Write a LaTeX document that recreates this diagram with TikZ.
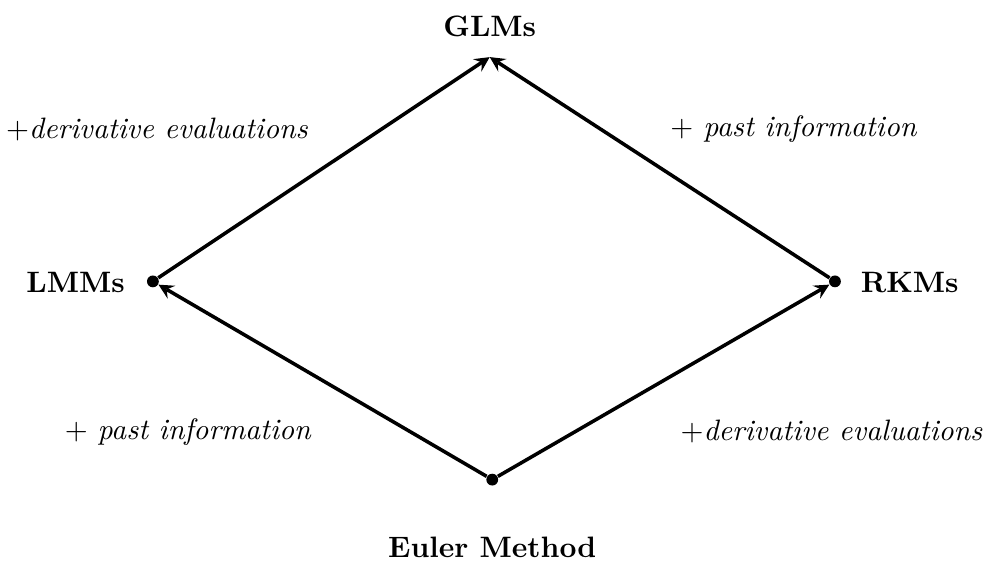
\documentclass[tikz,border=0pt]{standalone}
\usepackage{amsmath,amsfonts}
\usepackage{xcolor}
\usepackage{tikz}

\begin{document}
\begin{tikzpicture}[dot/.style={circle,fill,inner sep=0pt,minimum size=4pt}]
\useasboundingbox (0,0) rectangle (11.75,6.71);
\coordinate(G) at (5.83,6.03);
\node(L) [dot] at (1.82,3.36) {};
\node(R) [dot] at (9.94,3.36) {};
\node(E) [dot] at (5.86,1.00) {};

\node(Gt) at (5.83,6.40) {\textbf{GLMs}};
\node(Lt) at (0.90,3.35) {\textbf{LMMs}};
\node(Rt) at (10.83,3.35) {\textbf{RKMs}};
\node(Et) at (5.86,0.19) {\textbf{Euler Method}};

\node(a1) at (1.87,5.17) {$+$\textit{derivative evaluations}};
\node(a2) at (9.45,5.17) {$+$ \textit{past information}};
\node(a3) at (2.24,1.57) {$+$ \textit{past information}};
\node(a4) at (9.90,1.57) {$+$\textit{derivative evaluations}};

\draw[very thick,-stealth] (E) to (L);
\draw[very thick,-stealth] (E) to (R);
\draw[very thick,-stealth] (L) to (G);
\draw[very thick,-stealth] (R) to (G);
\end{tikzpicture}
\end{document}
